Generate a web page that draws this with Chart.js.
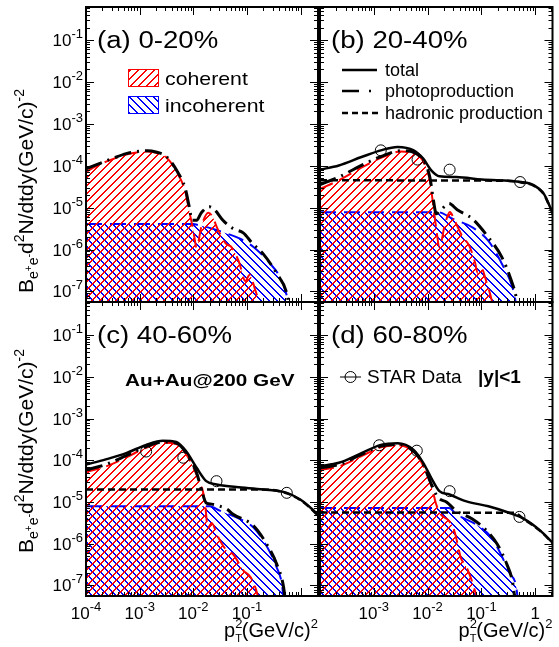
<!DOCTYPE html>
<html>
<head>
<meta charset="utf-8">
<script src="https://cdn.jsdelivr.net/npm/chart.js@4"></script>
<style>
  body { margin: 0; background: #fff; }
  #wrap { position: relative; width: 559px; height: 647px; }
  canvas { position: absolute; left: 0; top: 0; }
</style>
</head>
<body>
<div id="wrap">
  <canvas id="pa" width="559" height="647"></canvas>
  <canvas id="pb" width="559" height="647"></canvas>
  <canvas id="pc" width="559" height="647"></canvas>
  <canvas id="pd" width="559" height="647"></canvas>
</div>
<script>
// centrality classes
const centralities = ['(a) 0-20%', '(b) 20-40%', '(c) 40-60%', '(d) 60-80%'];

// (a) 0-20%
const cohX_a = [1e-4, 1.58e-4, 3.16e-4, 5.62e-4, 1e-3, 1.41e-3, 2e-3, 3.16e-3, 5e-3, 7.1e-3, 8.3e-3, 1e-2, 1.15e-2, 1.41e-2, 1.9e-2, 2.24e-2, 2.8e-2, 4e-2, 5.2e-2, 7.1e-2, 9.3e-2, 0.112, 0.141, 0.178, 0.25];
const cohY_a = [7.1e-5, 1.0e-4, 1.45e-4, 1.86e-4, 2.14e-4, 2.19e-4, 2.04e-4, 1.58e-4, 6.8e-5, 2.4e-5, 8.9e-6, 2.8e-6, 1.12e-6, 3.5e-6, 7.6e-6, 6.3e-6, 3.2e-6, 1.41e-6, 1.12e-6, 5.0e-7, 1.78e-7, 2.5e-7, 1.12e-7, 4.0e-8, 3.2e-9];
const phoX_a = [1e-4, 1.58e-4, 3.16e-4, 5.62e-4, 1e-3, 1.41e-3, 2e-3, 3.16e-3, 5e-3, 7.1e-3, 8.3e-3, 9.5e-3, 1.15e-2, 1.41e-2, 2e-2, 2.5e-2, 3.55e-2, 5.5e-2, 8.5e-2, 0.126, 0.2, 0.355, 0.55, 0.63, 0.79];
const phoY_a = [8.5e-5, 1.07e-4, 1.51e-4, 1.95e-4, 2.24e-4, 2.29e-4, 2.14e-4, 1.66e-4, 7.4e-5, 2.8e-5, 1.12e-5, 5.0e-6, 5.0e-6, 7.6e-6, 1.05e-5, 8.9e-6, 5.0e-6, 3.16e-6, 2.5e-6, 1.41e-6, 7.9e-7, 2.7e-7, 8.9e-8, 3.2e-8, 3.2e-9];
const incX_a = [1e-4, 1e-2, 1.26e-2, 2e-2, 3.55e-2, 7.4e-2, 0.132, 0.27, 0.41, 0.55, 0.63, 0.76];
const incY_a = [4.1e-6, 4.1e-6, 3.8e-6, 3.3e-6, 2.6e-6, 1.82e-6, 1.15e-6, 4.6e-7, 2.2e-7, 7.9e-8, 2.5e-8, 3e-9];

// (b) 20-40%
const totX_b = [1e-4, 2.24e-4, 5.9e-4, 1.35e-3, 2.75e-3, 5.5e-3, 8.3e-3, 1.17e-2, 1.66e-2, 3.4e-2, 0.102, 0.55, 0.955, 1.45, 1.9, 2.24];
const totY_b = [8.1e-5, 1.02e-4, 1.62e-4, 2.34e-4, 2.82e-4, 2.34e-4, 1.48e-4, 7.8e-5, 5.6e-5, 5.4e-5, 4.7e-5, 4.1e-5, 3.4e-5, 2.14e-5, 1.02e-5, 6.3e-6];
const hadX_b = [1e-4, 0.3, 0.55, 0.955, 1.45, 1.9, 2.24];
const hadY_b = [4.5e-5, 4.4e-5, 4.0e-5, 3.3e-5, 2.1e-5, 1.0e-5, 6.3e-6];
const phoX_b = [1e-4, 2.24e-4, 6.8e-4, 1.55e-3, 3.16e-3, 5e-3, 8.3e-3, 1.1e-2, 1.26e-2, 1.45e-2, 1.78e-2, 2.5e-2, 3.55e-2, 6.8e-2, 0.135, 0.24, 0.36, 0.45, 0.5, 0.63];
const phoY_b = [3.55e-5, 5.4e-5, 1.12e-4, 1.78e-4, 2.29e-4, 2.19e-4, 1.35e-4, 5.4e-5, 1.78e-5, 7.2e-6, 8.9e-6, 1.26e-5, 8.9e-6, 5.4e-6, 1.95e-6, 6.6e-7, 1.82e-7, 6.6e-8, 2.5e-8, 3.2e-9];
const cohX_b = [1e-4, 2.24e-4, 6.8e-4, 1.55e-3, 3.16e-3, 5e-3, 8.3e-3, 1.1e-2, 1.26e-2, 1.45e-2, 1.66e-2, 2.1e-2, 2.6e-2, 3.16e-2, 4.5e-2, 5.9e-2, 7.6e-2, 8.5e-2, 0.1, 0.126, 0.155, 0.178, 0.224];
const cohY_b = [2.8e-5, 4.5e-5, 1.0e-4, 1.66e-4, 2.19e-4, 2.09e-4, 1.26e-4, 4.5e-5, 1.26e-5, 3.16e-6, 1.15e-6, 4.0e-6, 7.9e-6, 5.0e-6, 2.0e-6, 1.26e-6, 5.0e-7, 2.8e-7, 3.55e-7, 1.58e-7, 6.3e-8, 2.5e-8, 3.2e-9];
const incX_b = [1e-4, 1.58e-2, 2.95e-2, 6.8e-2, 0.135, 0.24, 0.36, 0.42, 0.47, 0.6];
const incY_b = [7.8e-6, 7.8e-6, 5.4e-6, 3.4e-6, 1.62e-6, 4.6e-7, 1.51e-7, 7.2e-8, 2.5e-8, 3e-9];
const starX_b = [1.35e-3, 6.5e-3, 2.57e-2, 0.525];
const starY_b = [2.34e-4, 1.41e-4, 8.1e-5, 4.1e-5];

// (c) 40-60%
const totX_c = [1e-4, 2.34e-4, 5.6e-4, 1.32e-3, 2.7e-3, 4.8e-3, 7.4e-3, 1.15e-2, 1.74e-2, 2.7e-2, 6.3e-2, 0.2, 0.55, 0.98, 1.62, 2.14];
const totY_c = [7.9e-5, 1.05e-4, 1.48e-4, 2.34e-4, 2.95e-4, 2.75e-4, 1.62e-4, 6.6e-5, 3.16e-5, 2.63e-5, 2.29e-5, 2.0e-5, 1.66e-5, 1.15e-5, 6.8e-6, 4.7e-6];
const hadX_c = [1e-4, 0.2, 0.55, 0.98, 1.62, 2.14];
const hadY_c = [2.0e-5, 2.0e-5, 1.62e-5, 1.12e-5, 6.6e-6, 4.6e-6];
const phoX_c = [1e-4, 2.34e-4, 5.6e-4, 1.32e-3, 2.7e-3, 4.8e-3, 7.4e-3, 1.15e-2, 1.41e-2, 1.74e-2, 2.2e-2, 3.16e-2, 4.2e-2, 5.5e-2, 0.132, 0.23, 0.355, 0.48, 0.54, 0.7];
const phoY_c = [5.9e-5, 7.9e-5, 1.29e-4, 2.14e-4, 2.75e-4, 2.57e-4, 1.48e-4, 5.0e-5, 2.0e-5, 9.5e-6, 8.9e-6, 7.9e-6, 6.8e-6, 5.1e-6, 2.7e-6, 1.0e-6, 3.3e-7, 9.1e-8, 2.5e-8, 3.2e-9];
const cohX_c = [1e-4, 2.34e-4, 5.6e-4, 1.32e-3, 2.7e-3, 4.8e-3, 7.4e-3, 1.15e-2, 1.51e-2, 1.66e-2, 1.86e-2, 2.2e-2, 2.8e-2, 4.2e-2, 5.5e-2, 8.5e-2, 0.117, 0.155, 0.178, 0.224];
const cohY_c = [5.2e-5, 7.1e-5, 1.17e-4, 2.0e-4, 2.63e-4, 2.45e-4, 1.38e-4, 4.5e-5, 1.78e-5, 8.7e-6, 2.4e-6, 3.16e-6, 1.58e-6, 6.8e-7, 5.6e-7, 2.3e-7, 1.58e-7, 6.3e-8, 2.5e-8, 3.2e-9];
const incX_c = [1e-4, 2e-2, 3.1e-2, 7.4e-2, 0.132, 0.23, 0.355, 0.45, 0.5, 0.63];
const incY_c = [7.9e-6, 7.9e-6, 6.2e-6, 3.9e-6, 2.45e-6, 8.9e-7, 2.75e-7, 1.0e-7, 2.5e-8, 3e-9];
const starX_c = [1.32e-3, 6.5e-3, 2.7e-2, 0.55];
const starY_c = [1.62e-4, 1.15e-4, 3.16e-5, 1.66e-5];

// (d) 60-80%
const totX_d = [1e-4, 2.24e-4, 5.9e-4, 1.35e-3, 2.75e-3, 5.5e-3, 8.3e-3, 1.26e-2, 1.66e-2, 2.57e-2, 5.1e-2, 0.135, 0.316, 0.63, 1.26, 1.95, 2.2];
const totY_d = [7.2e-5, 8.7e-5, 1.48e-4, 2.34e-4, 2.57e-4, 1.78e-4, 8.7e-5, 3.16e-5, 1.82e-5, 1.51e-5, 1.05e-5, 7.9e-6, 5.6e-6, 3.9e-6, 2.04e-6, 1.17e-6, 1.0e-6];
const hadX_d = [1e-4, 0.4, 0.63, 1.26, 1.95, 2.2];
const hadY_d = [5.6e-6, 5.5e-6, 3.8e-6, 2.0e-6, 1.15e-6, 9.8e-7];
const phoX_d = [1e-4, 2.24e-4, 5.9e-4, 1.35e-3, 2.75e-3, 5.5e-3, 8.3e-3, 1.2e-2, 1.58e-2, 2.24e-2, 3.4e-2, 6.8e-2, 0.117, 0.195, 0.295, 0.39, 0.44, 0.55];
const phoY_d = [6.6e-5, 7.9e-5, 1.38e-4, 2.19e-4, 2.4e-4, 1.66e-4, 7.9e-5, 2.5e-5, 1.26e-5, 1.0e-5, 6.2e-6, 3.9e-6, 2.24e-6, 1.0e-6, 3.3e-7, 1.0e-7, 2.5e-8, 3e-9];
const cohX_d = [1e-4, 2.24e-4, 5.9e-4, 1.35e-3, 2.75e-3, 5.5e-3, 8.3e-3, 1.2e-2, 1.45e-2, 1.78e-2, 2.5e-2, 3.16e-2, 4.2e-2, 5e-2, 6.3e-2, 7.9e-2, 0.1, 0.13];
const cohY_d = [5.9e-5, 7.1e-5, 1.26e-4, 2.04e-4, 2.29e-4, 1.58e-4, 7.4e-5, 2.24e-5, 8.7e-6, 5.0e-6, 3.55e-6, 2.0e-6, 4.4e-7, 3.16e-7, 1.58e-7, 6.3e-8, 2.5e-8, 3e-9];
const incX_d = [1e-4, 2.5e-2, 3.4e-2, 7.8e-2, 0.155, 0.23, 0.34, 0.44, 0.5, 0.6];
const incY_d = [7.2e-6, 7.2e-6, 5.1e-6, 2.95e-6, 1.41e-6, 5.6e-7, 1.9e-7, 1.0e-7, 2.5e-8, 3e-9];
const starX_d = [1.26e-3, 6.3e-3, 2.57e-2, 0.51];
const starY_d = [2.29e-4, 1.7e-4, 1.82e-5, 4.4e-6];

// axis tick labels (exponents of 10)
const yTickExp = [-7, -6, -5, -4, -3, -2, -1];
const xTickExp_c = [-4, -3, -2, -1];
const xTickExp_d = [-3, -2, -1, 0];

const FONT = '"Liberation Sans", Arial, Helvetica, sans-serif';
const RED = 'rgb(255,0,0)', BLUE = 'rgb(0,0,255)';

function pts(xs, ys) {
  return xs.map((x, i) => ({ x: x, y: ys[i] }));
}

// pixel diagonal hatch tile, '/' for dir > 0 and '\' otherwise
function hatch(ctx, color, dir) {
  const s = 8;
  const c = document.createElement('canvas');
  c.width = s; c.height = s;
  const g = c.getContext('2d');
  g.fillStyle = color;
  for (let k = 0; k < s; k++) {
    const row = dir > 0 ? s - 1 - k : k;
    g.fillRect(k, row, 1, 1);
    g.fillRect((k + 1) % s, row, 1, 1);
  }
  return ctx.createPattern(c, 'repeat');
}

// draw a run of text pieces (sub/superscripts), returns width
function rich(ctx, segs, x, y, measureOnly) {
  let cx = x;
  for (const s of segs) {
    ctx.font = (s.b ? 'bold ' : '') + s.s + 'px ' + FONT;
    const w = ctx.measureText(s.t).width;
    if (!measureOnly) ctx.fillText(s.t, cx, y + (s.dy || 0));
    if (!s.keep) cx += w;
  }
  return cx - x;
}

function powSegs(e) {
  if (e === 0) return [{ t: '1', s: 17 }];
  return [{ t: '10', s: 17 }, { t: '-' + (-e), s: 13, dy: -8 }];
}

function stretched(ctx, text, x, y, size, sx, bold) {
  ctx.save();
  ctx.font = (bold ? 'bold ' : '') + size + 'px ' + FONT;
  ctx.translate(x, y);
  ctx.scale(sx, 1);
  ctx.fillText(text, 0, 0);
  ctx.restore();
}

const yTitle = [
  { t: 'B', s: 21 }, { t: 'e', s: 14, dy: 5 }, { t: '+', s: 10, dy: -1 }, { t: 'e', s: 14, dy: 5 }, { t: '-', s: 11, dy: -1 },
  { t: 'd', s: 21 }, { t: '2', s: 14, dy: -9 }, { t: 'N/dtdy(GeV/c)', s: 21 }, { t: '-2', s: 14, dy: -9 }
];
const xTitle = [
  { t: 'p', s: 20 }, { t: '2', s: 13, dy: -9, keep: true }, { t: 'T', s: 11, dy: 5 }, { t: '(GeV/c)', s: 20 }, { t: '2', s: 13, dy: -9 }
];

const rootFrame = {
  id: 'rootFrame',
  afterDraw(chart, args, opts) {
    const i = opts.idx;
    const { ctx, chartArea: a, scales: { x, y } } = chart;
    ctx.save();
    ctx.fillStyle = '#000';
    ctx.strokeStyle = '#000';
    // ticks inside the frame, all four sides
    ctx.lineWidth = 1;
    ctx.beginPath();
    for (let e = -4; e <= 0; e++) for (let k = 1; k <= 9; k++) {
      const v = k * Math.pow(10, e);
      if (v < x.min || v > x.max) continue;
      const px = Math.round(x.getPixelForValue(v)) + 0.5, L = k === 1 ? 8 : 4;
      ctx.moveTo(px, a.bottom); ctx.lineTo(px, a.bottom - L);
      ctx.moveTo(px, a.top); ctx.lineTo(px, a.top + L);
    }
    for (let e = -8; e <= -1; e++) for (let k = 1; k <= 9; k++) {
      const v = k * Math.pow(10, e);
      if (v < y.min || v > y.max) continue;
      const py = Math.round(y.getPixelForValue(v)) + 0.5, L = k === 1 ? 8 : 4;
      ctx.moveTo(a.left, py); ctx.lineTo(a.left + L, py);
      ctx.moveTo(a.right, py); ctx.lineTo(a.right - L, py);
    }
    ctx.stroke();
    ctx.lineWidth = 2;
    ctx.strokeRect(a.left, a.top, a.right - a.left, a.bottom - a.top);

    ctx.textBaseline = 'alphabetic';
    // y tick labels + title on the left column
    if (i % 2 === 0) {
      for (const e of yTickExp) {
        const segs = powSegs(e);
        const w = rich(ctx, segs, 0, 0, true);
        rich(ctx, segs, 83 - w, y.getPixelForValue(Math.pow(10, e)) + 6);
      }
      ctx.save();
      ctx.translate(33, i === 0 ? 293 : 553);
      ctx.rotate(-Math.PI / 2);
      rich(ctx, yTitle, 0, 0);
      ctx.restore();
    }
    // x tick labels + title on the bottom row
    if (i >= 2) {
      for (const e of (i === 2 ? xTickExp_c : xTickExp_d)) {
        const segs = powSegs(e);
        const w = rich(ctx, segs, 0, 0, true);
        rich(ctx, segs, x.getPixelForValue(Math.pow(10, e)) - w / 2, 619);
      }
      const w = rich(ctx, xTitle, 0, 0, true);
      rich(ctx, xTitle, Math.min(a.right, 558) - w, 637);
    }
    // panel label
    stretched(ctx, centralities[i], a.left + 11, a.top + 41, 23, 1.2);

    if (i === 0) {
      ctx.lineWidth = 1;
      ctx.fillStyle = hatch(ctx, RED, 1); ctx.fillRect(128, 69, 31, 18);
      ctx.strokeStyle = RED; ctx.strokeRect(128.5, 69.5, 30, 17);
      ctx.fillStyle = hatch(ctx, BLUE, -1); ctx.fillRect(128, 96, 31, 18);
      ctx.strokeStyle = BLUE; ctx.strokeRect(128.5, 96.5, 30, 17);
      ctx.fillStyle = '#000';
      stretched(ctx, 'coherent', 165, 85, 19, 1.12);
      stretched(ctx, 'incoherent', 165, 112, 19, 1.12);
    }
    if (i === 1) {
      ctx.strokeStyle = '#000';
      ctx.lineWidth = 2.5;
      ctx.beginPath(); ctx.moveTo(342, 70); ctx.lineTo(377, 70); ctx.stroke();
      ctx.setLineDash([17, 10, 2, 6]);
      ctx.beginPath(); ctx.moveTo(342, 91); ctx.lineTo(377, 91); ctx.stroke();
      ctx.setLineDash([6, 4]);
      ctx.beginPath(); ctx.moveTo(342, 113); ctx.lineTo(378, 113); ctx.stroke();
      ctx.setLineDash([]);
      ctx.font = '18px ' + FONT;
      ctx.fillText('total', 385, 76);
      ctx.fillText('photoproduction', 385, 97);
      ctx.fillText('hadronic production', 385, 119);
    }
    if (i === 2) {
      stretched(ctx, 'Au+Au@200 GeV', 125, 386, 17, 1.22, true);
    }
    if (i === 3) {
      ctx.lineWidth = 1;
      ctx.beginPath(); ctx.moveTo(340, 377); ctx.lineTo(361, 377); ctx.stroke();
      ctx.beginPath(); ctx.arc(350.5, 377, 5.5, 0, Math.PI * 2); ctx.stroke();
      ctx.font = '19px ' + FONT;
      ctx.fillText('STAR Data', 367, 383);
      ctx.font = 'bold 19px ' + FONT;
      ctx.fillText('|y|<1', 478, 383);
    }
    ctx.restore();
  }
};

const bounds = [
  { l: 86, r: 318, t: 7, b: 302 },
  { l: 320, r: 556, t: 7, b: 302 },
  { l: 86, r: 318, t: 302, b: 596 },
  { l: 320, r: 556, t: 302, b: 596 }
];

const series = [
  { coh: [cohX_a, cohY_a], inc: [incX_a, incY_a], pho: [phoX_a, phoY_a] },
  { coh: [cohX_b, cohY_b], inc: [incX_b, incY_b], pho: [phoX_b, phoY_b], tot: [totX_b, totY_b], had: [hadX_b, hadY_b], star: [starX_b, starY_b] },
  { coh: [cohX_c, cohY_c], inc: [incX_c, incY_c], pho: [phoX_c, phoY_c], tot: [totX_c, totY_c], had: [hadX_c, hadY_c], star: [starX_c, starY_c] },
  { coh: [cohX_d, cohY_d], inc: [incX_d, incY_d], pho: [phoX_d, phoY_d], tot: [totX_d, totY_d], had: [hadX_d, hadY_d], star: [starX_d, starY_d] }
];

['pa', 'pb', 'pc', 'pd'].forEach((id, i) => {
  const ctx = document.getElementById(id).getContext('2d');
  const s = series[i], b = bounds[i];
  const datasets = [];
  if (s.star) datasets.push({
    label: 'STAR Data', data: pts(s.star[0], s.star[1]), showLine: false,
    pointStyle: 'circle', pointRadius: 5.5, borderColor: '#000', backgroundColor: 'rgba(0,0,0,0)', pointBorderWidth: 1
  });
  if (s.tot) datasets.push({
    label: 'total', data: pts(s.tot[0], s.tot[1]), borderColor: '#000', borderWidth: 2.5,
    cubicInterpolationMode: 'monotone', fill: false
  });
  if (s.had) datasets.push({
    label: 'hadronic production', data: pts(s.had[0], s.had[1]), borderColor: '#000', borderWidth: 2.5,
    borderDash: [7, 4], cubicInterpolationMode: 'monotone', fill: false
  });
  datasets.push({
    label: 'photoproduction', data: pts(s.pho[0], s.pho[1]), borderColor: '#000', borderWidth: 3,
    borderDash: [17, 6, 2, 6], cubicInterpolationMode: 'monotone', fill: false
  });
  datasets.push({
    label: 'coherent', data: pts(s.coh[0], s.coh[1]), borderColor: RED, borderWidth: 2,
    borderDash: [14, 7], cubicInterpolationMode: 'monotone', fill: 'start', backgroundColor: hatch(ctx, RED, 1)
  });
  datasets.push({
    label: 'incoherent', data: pts(s.inc[0], s.inc[1]), borderColor: BLUE, borderWidth: 2,
    borderDash: [16, 8], cubicInterpolationMode: 'monotone', fill: 'start', backgroundColor: hatch(ctx, BLUE, -1)
  });

  new Chart(ctx, {
    type: 'line',
    data: { datasets: datasets },
    options: {
      responsive: false,
      animation: false,
      devicePixelRatio: 1,
      layout: { padding: { left: b.l, top: b.t, right: 559 - b.r, bottom: 647 - b.b } },
      elements: { point: { radius: 0 } },
      scales: {
        x: { type: 'logarithmic', min: 1e-4, max: 2.1, display: false },
        y: { type: 'logarithmic', min: 5.6e-8, max: 0.62, display: false }
      },
      plugins: {
        legend: { display: false },
        tooltip: { enabled: false },
        rootFrame: { idx: i }
      }
    },
    plugins: [rootFrame]
  });
});
</script>
</body>
</html>
